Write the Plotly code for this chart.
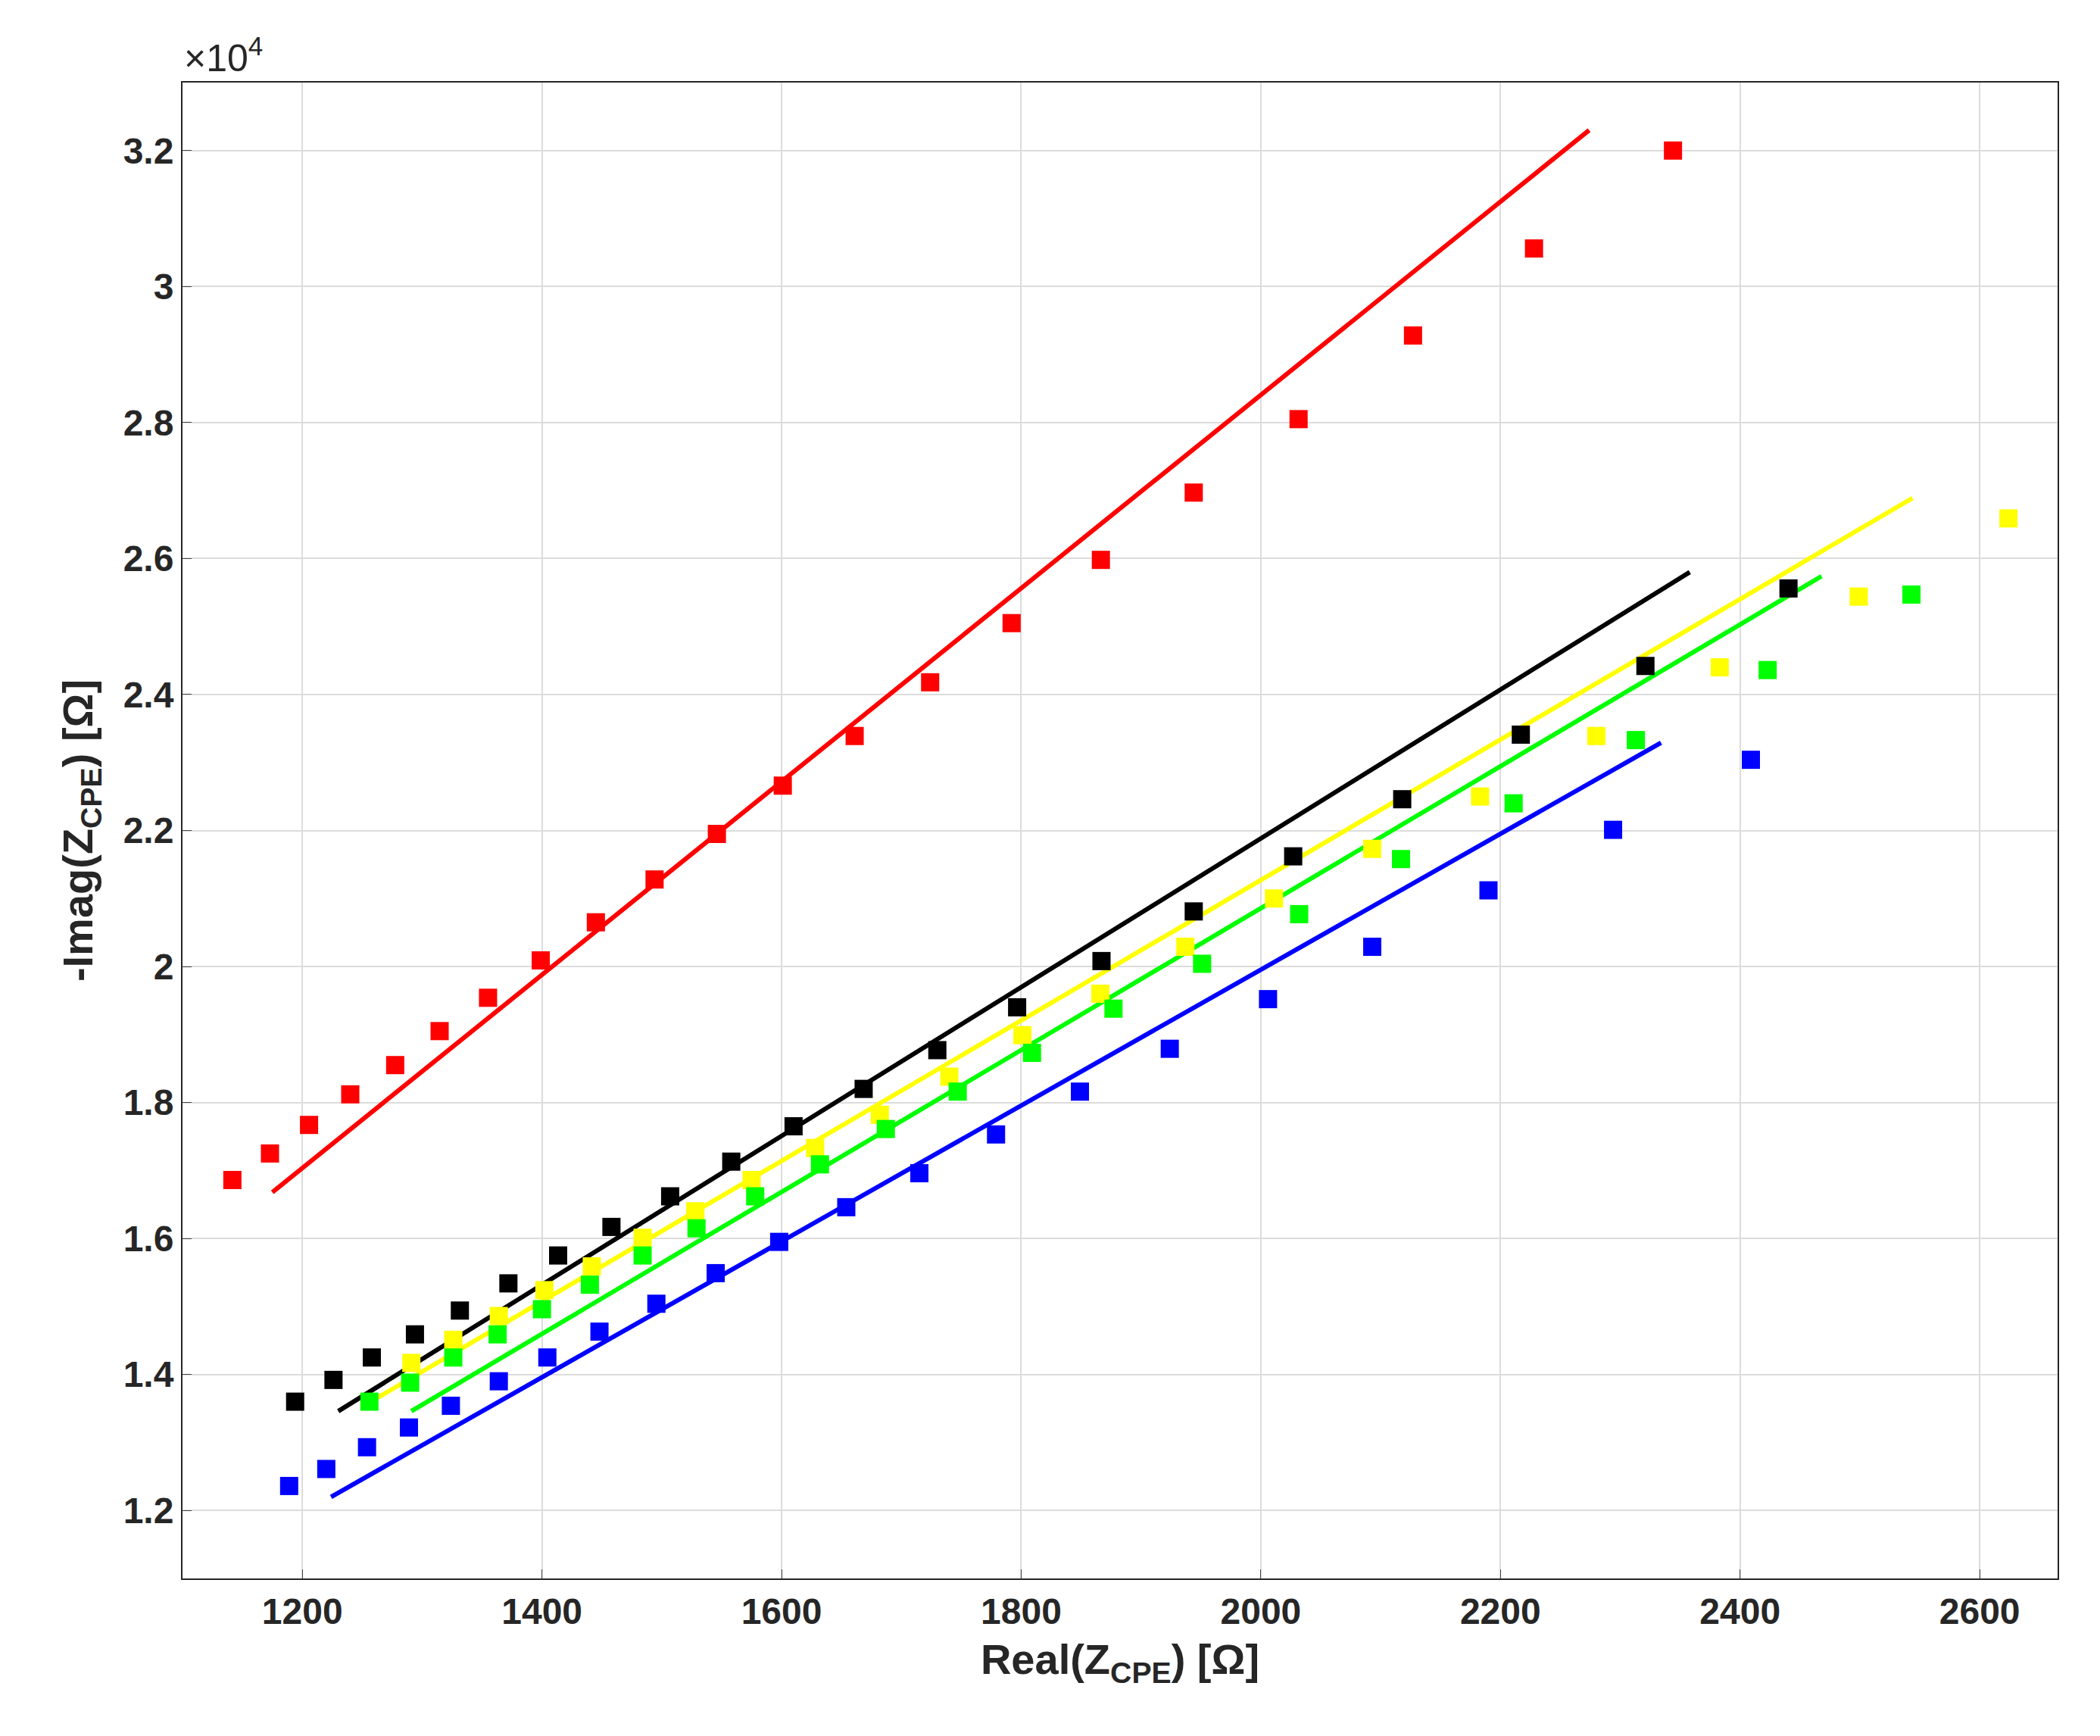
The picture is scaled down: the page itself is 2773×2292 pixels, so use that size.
import plotly.graph_objects as go

red_x=[1141.6,1173,1205.6,1240,1277.5,1314.6,1355,1399,1445,1494,1546,1601,1661,1724,1792,1866.5,1944,2031.5,2127,2228,2344]
red_y=[1.686,1.725,1.767,1.812,1.855,1.905,1.954,2.009,2.065,2.128,2.195,2.266,2.339,2.418,2.505,2.598,2.697,2.805,2.928,3.056,3.2]
red_fit_x=[1175,2274]; red_fit_y=[1.668,3.23]

blk_x=[1194,1226,1258,1294,1331.5,1372,1413.5,1458,1507,1558,1610,1668.5,1730,1796.6,1867,1944,2027,2118,2217,2321,2440.4]
blk_y=[1.360,1.392,1.425,1.459,1.494,1.534,1.575,1.617,1.662,1.713,1.765,1.820,1.877,1.940,2.008,2.081,2.162,2.246,2.341,2.442,2.556]
blk_fit_x=[1230,2358]; blk_fit_y=[1.346,2.580]

yel_x=[1291,1326,1364,1402,1441.6,1484,1528,1575,1628,1682,1740,1801,1866,1937,2011,2093,2183,2280,2383,2499,2624]
yel_y=[1.417,1.451,1.486,1.524,1.559,1.601,1.640,1.686,1.733,1.782,1.838,1.899,1.960,2.029,2.100,2.173,2.250,2.339,2.440,2.544,2.659]
yel_fit_x=[1263,2544]; yel_fit_y=[1.366,2.689]

grn_x=[1256,1290,1326,1363,1400,1440,1484,1529,1578,1632,1687,1747,1809,1877,1951,2032,2117,2211,2313,2423,2543]
grn_y=[1.360,1.388,1.425,1.459,1.496,1.532,1.575,1.615,1.662,1.709,1.761,1.816,1.873,1.938,2.004,2.077,2.158,2.240,2.333,2.436,2.547]
grn_fit_x=[1291,2468]; grn_fit_y=[1.346,2.574]

blu_x=[1189,1220,1254,1289,1324,1364,1404.5,1448,1495.5,1545,1598,1654,1715,1779,1849,1924,2006,2093,2190,2294,2409]
blu_y=[1.236,1.261,1.293,1.322,1.354,1.390,1.425,1.463,1.504,1.549,1.595,1.646,1.696,1.753,1.816,1.879,1.952,2.029,2.112,2.201,2.304]
blu_fit_x=[1224,2334]; blu_fit_y=[1.220,2.329]

x_ticks=[1200,1400,1600,1800,2000,2200,2400,2600]
y_ticks=[1.2,1.4,1.6,1.8,2,2.2,2.4,2.6,2.8,3,3.2]
y_tick_labels=['1.2','1.4','1.6','1.8','2','2.2','2.4','2.6','2.8','3','3.2']

series=[(red_x,red_y,red_fit_x,red_fit_y,'#ff0000'),
        (blk_x,blk_y,blk_fit_x,blk_fit_y,'#000000'),
        (yel_x,yel_y,yel_fit_x,yel_fit_y,'#ffff00'),
        (grn_x,grn_y,grn_fit_x,grn_fit_y,'#00ff00'),
        (blu_x,blu_y,blu_fit_x,blu_fit_y,'#0000ff')]

fig=go.Figure()
for x,y,fx,fy,c in series:
    fig.add_trace(go.Scatter(x=fx,y=fy,mode='lines',line=dict(color=c,width=6),showlegend=False))
for x,y,fx,fy,c in series:
    fig.add_trace(go.Scatter(x=x,y=y,mode='markers',marker=dict(symbol='square',size=24,color=c),showlegend=False))

font=dict(family='Liberation Sans',size=48,color='#262626')
tfont=dict(family='Liberation Sans',size=56,color='#262626')
ax=dict(showline=True,linecolor='#262626',linewidth=2,mirror=True,ticks='inside',ticklen=12,
        gridcolor='#dcdcdc',gridwidth=2,zeroline=False,tickfont=font)
fig.update_layout(width=2773,height=2292,paper_bgcolor='white',plot_bgcolor='white',
    margin=dict(l=233,r=64,t=101,b=216),font=font)
fig.update_xaxes(**ax,range=[1100,2665],tickvals=x_ticks,ticktext=['<b>%d</b>'%v for v in x_ticks],
    title=dict(text='<b>Real(Z<sub>CPE</sub>) [Ω]</b>',font=tfont,standoff=18))
fig.update_yaxes(**ax,range=[1.1,3.3],tickvals=y_ticks,ticktext=['<b>%s</b>'%t for t in y_tick_labels],
    title=dict(text='<b>-Imag(Z<sub>CPE</sub>) [Ω]</b>',font=tfont,standoff=22))
fig.add_annotation(x=0,y=1,xref='paper',yref='paper',xanchor='left',yanchor='bottom',showarrow=False,
    text='×10<sup>4</sup>',font=dict(family='Liberation Sans',size=50,color='#262626'),yshift=2)
fig.write_html('out.html')
